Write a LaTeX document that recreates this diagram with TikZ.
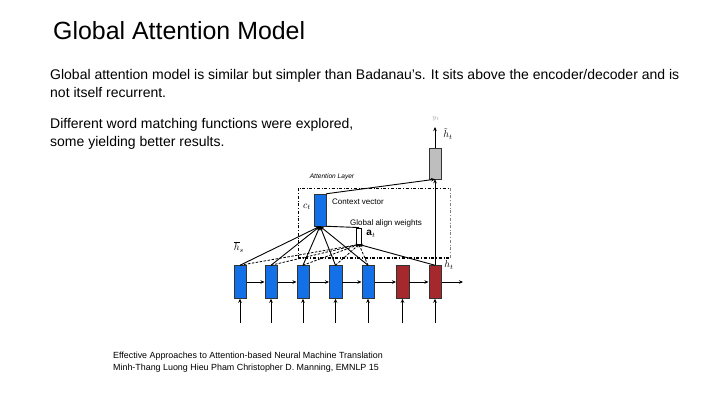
\documentclass[tikz,border=0pt]{standalone}
\usepackage{fontspec}
\setmainfont{Liberation Sans}
\setsansfont{Liberation Sans}
\usetikzlibrary{arrows.meta}
\definecolor{encblue}{RGB}{20,112,230}
\definecolor{decred}{RGB}{165,40,45}
\definecolor{outgray}{RGB}{190,190,190}
\tikzset{
  blk/.style={draw=black!80, line width=0.5pt, minimum width=12.5pt, minimum height=33pt, inner sep=0pt},
  conn/.style={-{Stealth[length=4pt,width=3.5pt]}, line width=0.9pt},
  dconn/.style={-{Stealth[length=3pt,width=3pt]}, line width=0.8pt, dashed, dash pattern=on 2.5pt off 1.5pt},
  lbl/.style={inner sep=0pt, font=\fontsize{8}{9}\selectfont},
  mlbl/.style={inner sep=0pt, font=\normalsize},
  body/.style={anchor=base west, inner sep=0pt, font=\fontsize{14}{16}\selectfont},
  cite/.style={anchor=base west, inner sep=0pt, font=\fontsize{8.9}{10}\selectfont}
}
\begin{document}
\begin{tikzpicture}[x=1pt,y=-1pt]
\fill[white] (0,0) rectangle (720,405);
\useasboundingbox (0,0) rectangle (720,405);
% texts
\node[anchor=base west, inner sep=0pt, font=\fontsize{24.9}{28}\selectfont] (title) at (53,39) {Global Attention Model};
\node[body] (t1) at (50,79) {Global attention model is similar but simpler than Badanau's. It sits above the encoder/decoder and is};
\node[body] (t2) at (50,97) {not itself recurrent.};
\node[body] (t3) at (50,128) {Different word matching functions were explored,};
\node[body] (t4) at (50,146) {some yielding better results.};
\node[cite] (c1) at (113,358) {Effective Approaches to Attention-based Neural Machine Translation};
\node[cite] (c2) at (113,370) {Minh-Thang Luong Hieu Pham Christopher D. Manning, EMNLP 15};
% attention layer frame
\draw[dash dot, line width=1pt] (298,258) -- (298,188) -- (450,188);
\draw[dash dot, line width=1pt, gray] (450,188) -- (450,258);
\draw[dash dot, line width=1.6pt] (298,258) -- (450,258);
% boxes
\node[blk, fill=encblue] (b1) at (240,282) {};
\node[blk, fill=encblue] (b2) at (271,282) {};
\node[blk, fill=encblue] (b3) at (303,282) {};
\node[blk, fill=encblue] (b4) at (335.5,282) {};
\node[blk, fill=encblue] (b5) at (368,282) {};
\node[blk, fill=decred] (b6) at (402.5,282) {};
\node[blk, fill=decred] (b7) at (435,282) {};
\node[blk, fill=encblue, minimum width=12pt, minimum height=32pt] (ct) at (320,210) {};
\node[blk, fill=outgray, minimum width=12pt, minimum height=31pt] (gy) at (435,163.5) {};
\node[draw=black, fill=white, line width=0.9pt, minimum width=5pt, minimum height=16pt, inner sep=0pt] (at) at (359,236) {};
% input / output coordinates
\foreach \i/\x in {1/240,2/271,3/303,4/335.5,5/368,6/402.5,7/435}{
  \coordinate (in\i) at (\x,323);
  \draw[conn] (in\i) -- (b\i.south);
}
\coordinate (outr) at (463,282);
\coordinate (outt) at (435,127);
% recurrent arrows
\draw[conn] (b1) -- (b2);
\draw[conn] (b2) -- (b3);
\draw[conn] (b3) -- (b4);
\draw[conn] (b4) -- (b5);
\draw[conn] (b5) -- (b6);
\draw[conn] (b6) -- (b7);
\draw[conn] (b7) -- (outr);
% context connections
\foreach \i in {1,...,5}{
  \draw[conn] (b\i.north) -- (ct.south);
  \draw[dconn] (b\i.north) -- (at.south);
}
\draw[conn] (b7.north) -- (at.south);
\draw[line width=0.9pt] (ct.south east) -- (at.north);
\draw[conn] (ct.north east) -- (gy.south);
\draw[conn] (b7.north) -- (gy.south);
\draw[conn] (gy.north) -- (outt);
% labels
\node[lbl, font=\fontsize{6.6}{8}\selectfont\itshape] (attl) at (332,177) {Attention Layer};
\node[lbl, anchor=west] (ctxl) at (332,202) {Context vector};
\node[lbl, anchor=west] (gawl) at (350,223.5) {Global align weights};
\node[mlbl] (ctl) at (307,207) {$c_t$};
\node[mlbl] (atl) at (371,234) {$\mathbf{a}_t$};
\node[mlbl] (hsl) at (239,247) {$\overline{h}_s$};
\node[mlbl] (htl) at (449,265) {$h_t$};
\node[mlbl] (htt) at (448,134) {$\tilde{h}_t$};
\node[inner sep=0pt, text=black!35, font=\scriptsize] (ytl) at (436,119) {$y_t$};
\end{tikzpicture}
\end{document}
